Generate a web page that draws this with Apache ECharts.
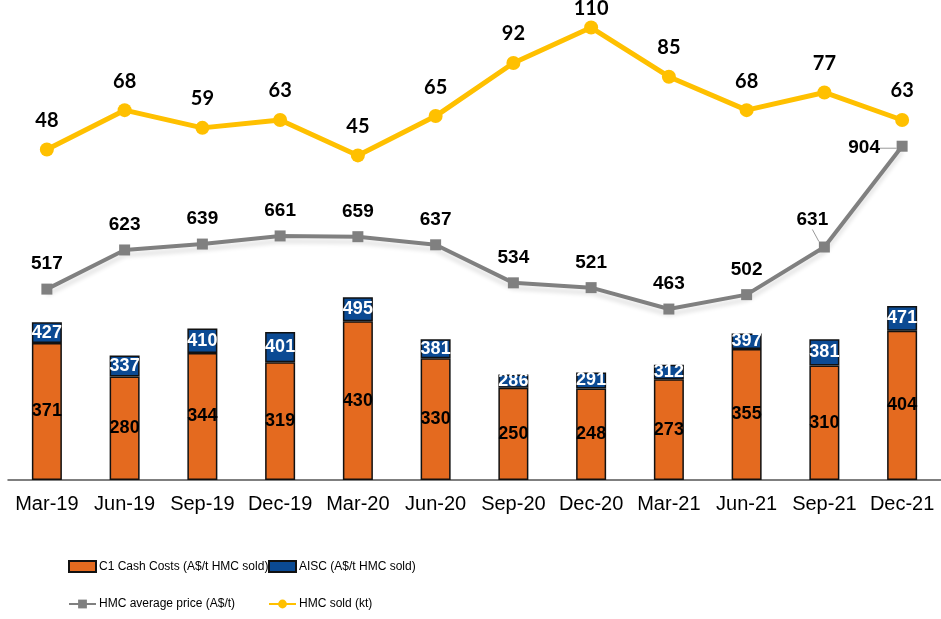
<!DOCTYPE html>
<html>
<head>
<meta charset="utf-8">
<script src="https://cdn.jsdelivr.net/npm/echarts@6/dist/echarts.min.js"></script>
<style>
  html, body { margin: 0; padding: 0; background: #fff; }
  #main { width: 941px; height: 619px; }
</style>
</head>
<body>
<div id="main"></div>
<script>
var quarters = ['Mar-19', 'Jun-19', 'Sep-19', 'Dec-19', 'Mar-20', 'Jun-20',
                'Sep-20', 'Dec-20', 'Mar-21', 'Jun-21', 'Sep-21', 'Dec-21'];
var c1Costs = [371, 280, 344, 319, 430, 330, 250, 248, 273, 355, 310, 404];
var aiscCosts = [427, 337, 410, 401, 495, 381, 286, 291, 312, 397, 381, 471];
var avgPrice = [517, 623, 639, 661, 659, 637, 534, 521, 463, 502, 631, 904];
var hmcSold = [48, 68, 59, 63, 45, 65, 92, 110, 85, 68, 77, 63];

// blue part of the stack is the gap between C1 and AISC
var aiscGap = [];
for (var i = 0; i < c1Costs.length; i++)
    aiscGap.push(aiscCosts[i] - c1Costs[i]);

// last two price labels sit off to the side with a small leader line
var priceData = avgPrice.map(function (v, i) {
    if (i >= avgPrice.length - 2) return { value: v, labelLine: { show: true } };
    return v;
});

var soldData = hmcSold.map(function (v) {
    if (v === 110) return { value: v, label: { distance: 2 } };
    return v;
});

var labelFont = "'Liberation Sans', Arial, sans-serif";

function legendBox(name, left, top, icon) {
    var l = {
        data: [name],
        left: left,
        top: top,
        itemWidth: 27,
        itemHeight: 11,
        itemGap: 0,
        padding: 0,
        selectedMode: false,
        textStyle: { fontFamily: labelFont, fontSize: 12, color: '#000', padding: [0, 0, 0, -2] }
    };
    if (icon) l.icon = icon;
    return l;
}

var chart = echarts.init(document.getElementById('main'));
chart.setOption({
    animation: false,
    backgroundColor: '#fff',
    legend: [
        legendBox('C1 Cash Costs (A$/t HMC sold)', 68, 560, 'rect'),
        legendBox('AISC (A$/t HMC sold)', 268, 560, 'rect'),
        legendBox('HMC average price (A$/t)', 68, 598),
        legendBox('HMC sold (kt)', 268, 598)
    ],
    grid: { left: 8, width: 937, top: 0, height: 480 },
    xAxis: {
        type: 'category',
        data: quarters,
        axisLine: { lineStyle: { color: '#555', width: 1.5 } },
        axisTick: { show: false },
        axisLabel: { interval: 0, color: '#000', fontSize: 20, fontFamily: labelFont, margin: 14 }
    },
    yAxis: [
        { type: 'value', min: 0, max: 1300, show: false },
        { type: 'value', min: -120, max: 124, show: false }
    ],
    series: [
        {
            name: 'C1 Cash Costs (A$/t HMC sold)',
            type: 'bar',
            stack: 'cost',
            data: c1Costs,
            barWidth: 30,
            itemStyle: { color: '#E46A1F', borderColor: '#111', borderWidth: 1.5 },
            label: {
                show: true,
                position: 'inside',
                color: '#000',
                fontWeight: 'bold',
                fontSize: 18,
                fontFamily: labelFont
            }
        },
        {
            name: 'AISC (A$/t HMC sold)',
            type: 'bar',
            stack: 'cost',
            data: aiscGap,
            barWidth: 30,
            itemStyle: { color: '#0B4A93', borderColor: '#111', borderWidth: 1.5 },
            label: {
                show: true,
                position: 'inside',
                color: '#fff',
                fontWeight: 'bold',
                fontSize: 18,
                fontFamily: labelFont,
                formatter: function (p) { return aiscCosts[p.dataIndex]; }
            }
        },
        {
            name: 'HMC average price (A$/t)',
            type: 'line',
            data: priceData,
            symbol: 'rect',
            symbolSize: 11,
            z: 5,
            lineStyle: {
                color: '#808080', width: 4,
                shadowColor: 'rgba(0,0,0,0.12)', shadowBlur: 4, shadowOffsetY: 5
            },
            itemStyle: { color: '#808080' },
            label: {
                show: true,
                position: 'top',
                distance: 10,
                color: '#000',
                fontWeight: 'bold',
                fontSize: 19,
                fontFamily: labelFont
            },
            labelLine: { show: false, lineStyle: { color: '#999', width: 1 } },
            labelLayout: function (p) {
                if (p.dataIndex === 10) return { dx: -12, dy: -2 };
                if (p.dataIndex === 11) return { dx: -38, dy: 27 };
                return {};
            }
        },
        {
            name: 'HMC sold (kt)',
            type: 'line',
            yAxisIndex: 1,
            data: soldData,
            symbol: 'circle',
            symbolSize: 14,
            z: 6,
            lineStyle: { color: '#FFC000', width: 5 },
            itemStyle: { color: '#FFC000' },
            label: {
                show: true,
                position: 'top',
                distance: 12,
                color: '#000',
                fontWeight: 'bold',
                fontSize: 20,
                fontFamily: "Lato, 'Open Sans', sans-serif"
            }
        }
    ]
});
</script>
</body>
</html>
